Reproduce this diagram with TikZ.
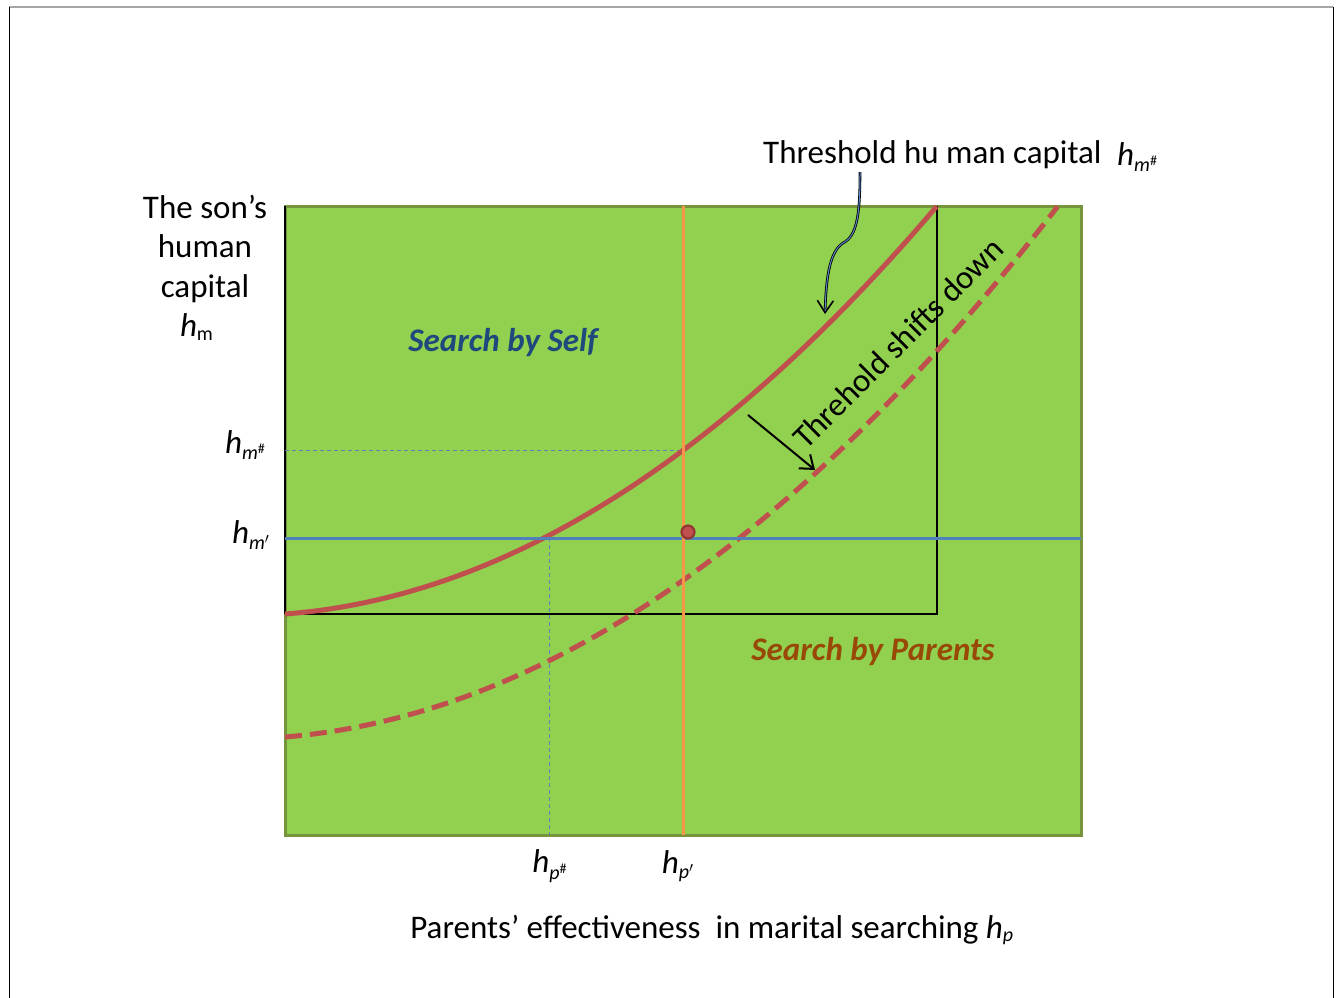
\documentclass[tikz,border=0pt]{standalone}
\usepackage{amsmath}
\usepackage{fontspec}
\setmainfont{Carlito}
\usetikzlibrary{arrows.meta}

\definecolor{fieldgreen}{HTML}{92D050}
\definecolor{fieldedge}{HTML}{77933C}
\definecolor{curvered}{HTML}{C0504D}
\definecolor{lineblue}{HTML}{4F81BD}
\definecolor{guideblue}{HTML}{5B84B5}
\definecolor{lineorange}{HTML}{F79646}
\definecolor{selfblue}{HTML}{1F497D}
\definecolor{parentbrown}{HTML}{984807}
\definecolor{dotedge}{HTML}{943634}
\definecolor{calloutblue}{HTML}{5A88C8}

% smaller scripts for the large label size
\DeclareMathSizes{33}{33}{20}{14}

% h with an italic subscript carrying its own superscript
\newcommand\hvar[2]{\textit{h}$_{\textit{#1}^{#2}}$}

\tikzset{
  label/.style={font=\fontsize{33}{39.5}\selectfont, inner sep=0pt},
  region/.style={font=\fontsize{33}{39.5}\selectfont\bfseries\itshape, inner sep=0pt},
  threshold/.style={curvered, line width=5pt},
  shifted/.style={curvered, line width=5pt, dash pattern=on 17pt off 8pt},
  guide/.style={guideblue, line width=1pt, dash pattern=on 4pt off 3pt},
}

\begin{document}
\begin{tikzpicture}[x=1pt, y=-1pt]
\useasboundingbox (0,0) rectangle (1339,998);

% page frame
\draw[gray!70, line width=2pt] (9,7) -- (1333,7);
\draw[black, line width=1pt] (9,7) -- (9,998);
\draw[black, line width=1pt] (1333,7) -- (1333,998);

% field
\filldraw[fill=fieldgreen, draw=fieldedge, line width=3pt] (285,206) rectangle (1081,835);

% region bounded by the original threshold
\draw[black, line width=1.2pt] (285,614) -- (937,614) -- (937,206);
\draw[black, line width=2.5pt] (285,206) -- (285,614);

% guides
\draw[guide] (285,450) -- (683,450);
\draw[guide] (549,538) -- (549,835);

% threshold curves
\draw[threshold] plot[domain=0:1, samples=90, smooth]
  ({285+652*\x}, {614-408*(0.12*\x+0.88*\x*\x)});
\draw[shifted] plot[domain=0:1, samples=90, smooth]
  ({285+773*\x}, {737-531*(0.12*\x+0.88*\x*\x)});

% reference levels
\draw[lineblue, line width=3pt] (285,538) -- (1081,538);
\draw[lineorange, line width=3pt] (683,206) -- (683,835);

% point of interest
\filldraw[fill=curvered, draw=dotedge, line width=2.2pt] (688,532) circle (6.5);

% text
\node[label, align=center, anchor=north] (sonlab) at (205,195)
  {The son’s\\human\\capital\\\hspace*{-0.5em}\textit{h}$_{\text{m}}$};
\node[label, anchor=west] (thrlab) at (763,155) {Threshold hu man capital};
\node[label, anchor=west] (thrsym) at (1117,157) {\hvar{m}{\#}};
\node[region, text=selfblue] (self) at (503,343) {Search by Self};
\node[region, text=parentbrown] (parents) at (873,652) {Search by Parents};
\node[label, anchor=east] (hmsharp) at (266,445) {\hvar{m}{\#}};
\node[label, anchor=east] (hmprime) at (270,535) {\hvar{m}{\prime}};
\node[label] (hpsharp) at (550,866) {\hvar{p}{\#}};
\node[label] (hpprime) at (678,866) {\hvar{p}{\prime}};
\node[label] (xlab) at (712,930) {Parents’ effectiveness\ \ in marital searching \textit{h}$_{\textit{p}}$};
\node[label, rotate=45] (shift) at (898,343) {Threhold shifts down};

% callout from the threshold label to the solid curve
\coordinate (callfrom) at (860,172);
\coordinate (callto) at (825,314);
\draw[black, line width=2.6pt, -{Straight Barb[length=12pt, width=16pt, line width=1.6pt]}]
  (callfrom) .. controls (860,215) and (857,236) .. (843,243)
  .. controls (829,252) and (826,280) .. (callto);
\draw[calloutblue, line width=1pt, shorten >=3pt]
  (callfrom) .. controls (860,215) and (857,236) .. (843,243)
  .. controls (829,252) and (826,280) .. (callto);

% shift arrow
\coordinate (shiftfrom) at (748,415);
\coordinate (shiftto) at (815,470);
\draw[black, line width=2pt, -{Straight Barb[length=12pt, width=18pt]}] (shiftfrom) -- (shiftto);
\end{tikzpicture}
\end{document}
